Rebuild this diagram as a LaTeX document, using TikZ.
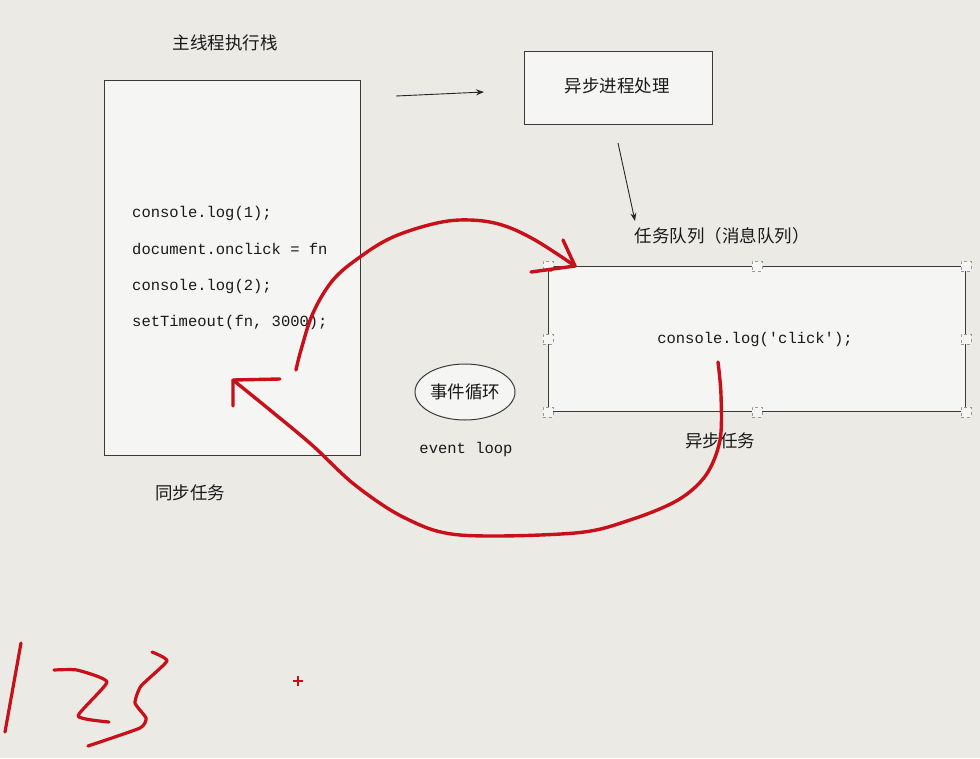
\documentclass[tikz,border=0pt]{standalone}
\usepackage{fontspec}
\setmonofont{Liberation Mono}
\newfontfamily\cjk{Noto Sans CJK SC}
\usetikzlibrary{shapes.geometric,arrows.meta}
\definecolor{bg}{HTML}{EBEAE5}
\definecolor{boxfill}{HTML}{F5F5F4}
\definecolor{boxline}{HTML}{3A3A3A}
\definecolor{pen}{HTML}{C8101A}
\tikzset{
  panel/.style={draw=boxline, line width=1.3pt, fill=boxfill},
  cjklabel/.style={font=\cjk\fontsize{17.5}{20}\selectfont, text=black!90, inner sep=0pt},
  code/.style={font=\ttfamily\fontsize{15.5}{18}\selectfont, text=black!90, inner sep=0pt, anchor=west},
  handle/.style={draw=gray!80, dashed, line width=0.7pt, minimum size=10pt, inner sep=0pt, fill=boxfill},
  thinarrow/.style={draw=black!85, line width=0.9pt, -{Stealth[length=8pt,width=6pt]}},
  redpen/.style={draw=pen, line width=3.4pt, line cap=round, line join=round},
}
\begin{document}
\begin{tikzpicture}[x=1pt,y=-1pt]
\fill[bg] (0,0) rectangle (980,758);
\useasboundingbox (0,0) rectangle (980,758);

% main stack
\node[cjklabel] (title) at (225,43) {主线程执行栈};
\node[panel, minimum width=256pt, minimum height=375pt, anchor=north west] (stack) at (104,80) {};
\node[code] (c1) at (132,213) {console.log(1);};
\node[code] (c2) at (132,249) {document.onclick = fn};
\node[code] (c3) at (132,286) {console.log(2);};
\node[code] (c4) at (132,322) {setTimeout(fn, 3000);};
\node[cjklabel] (sync) at (190,493) {同步任务};

% async processing
\node[panel, minimum width=188pt, minimum height=73pt, anchor=north west] (async) at (524,51) {};
\node[cjklabel] (asynctxt) at (617,86) {异步进程处理};
\coordinate (a1s) at (396,96);
\coordinate (a1e) at (484,92);
\draw[thinarrow] (a1s) -- (a1e);
\coordinate (a2s) at (618,143);
\coordinate (a2e) at (635,221);
\draw[thinarrow] (a2s) -- (a2e);

% queue
\node[cjklabel] (qtitle) at (722,236) {任务队列（消息队列）};
\node[panel, minimum width=417pt, minimum height=145pt, anchor=north west] (queue) at (548,266) {};
\node[code, anchor=center] (click) at (755,339) {console.log('click');};
\foreach \p/\n in {north west/h1, north/h2, north east/h3, west/h4, east/h5, south west/h6, south/h7, south east/h8}
  \node[handle] (\n) at (queue.\p) {};
\node[cjklabel] (asynctask) at (720,441) {异步任务};

% event loop
\node[draw=boxline, line width=1pt, fill=boxfill, ellipse, minimum width=100pt, minimum height=56pt, inner sep=0pt] (loop) at (465,392) {};
\node[cjklabel] (looptxt) at (465,392) {事件循环};
\node[code, anchor=center] (looplbl) at (466,449) {event loop};

% red freehand arrows
\coordinate (r1s) at (296,370);
\coordinate (r1e) at (575,266);
\draw[redpen] plot[smooth, tension=0.6] coordinates {(r1s) (301,350) (313,313) (333,280) (360,257) (393,237) (437,223) (470,220) (502,225) (535,240) (r1e)};
\draw[redpen] (563,240) -- (r1e) -- (531,272);

\coordinate (r2s) at (718,362);
\coordinate (r2e) at (233,380);
\draw[redpen] plot[smooth, tension=0.55] coordinates {(r2s) (721,395) (720,440) (706,475) (678,500) (630,520) (575,533) (460,535) (405,518) (355,485) (312,445) (270,410) (r2e)};
\draw[redpen] (233,406) -- (r2e) -- (280,379);

% handwriting 123
\draw[redpen, line width=3.2pt] (21,643) -- (5,732);
\draw[redpen, line width=3.2pt] plot[smooth, tension=0.3] coordinates {(54,670) (77,670) (107,682) (78,716) (109,722)};
\draw[redpen, line width=3.2pt] plot[smooth, tension=0.3] coordinates {(152,652) (167,661) (141,686) (135,703) (146,718) (140,728) (88,746)};
\coordinate (plus) at (298,681);
\draw[pen, line width=1.8pt] ([xshift=-5pt]plus) -- ([xshift=5pt]plus) ([yshift=-5pt]plus) -- ([yshift=5pt]plus);
\end{tikzpicture}
\end{document}
